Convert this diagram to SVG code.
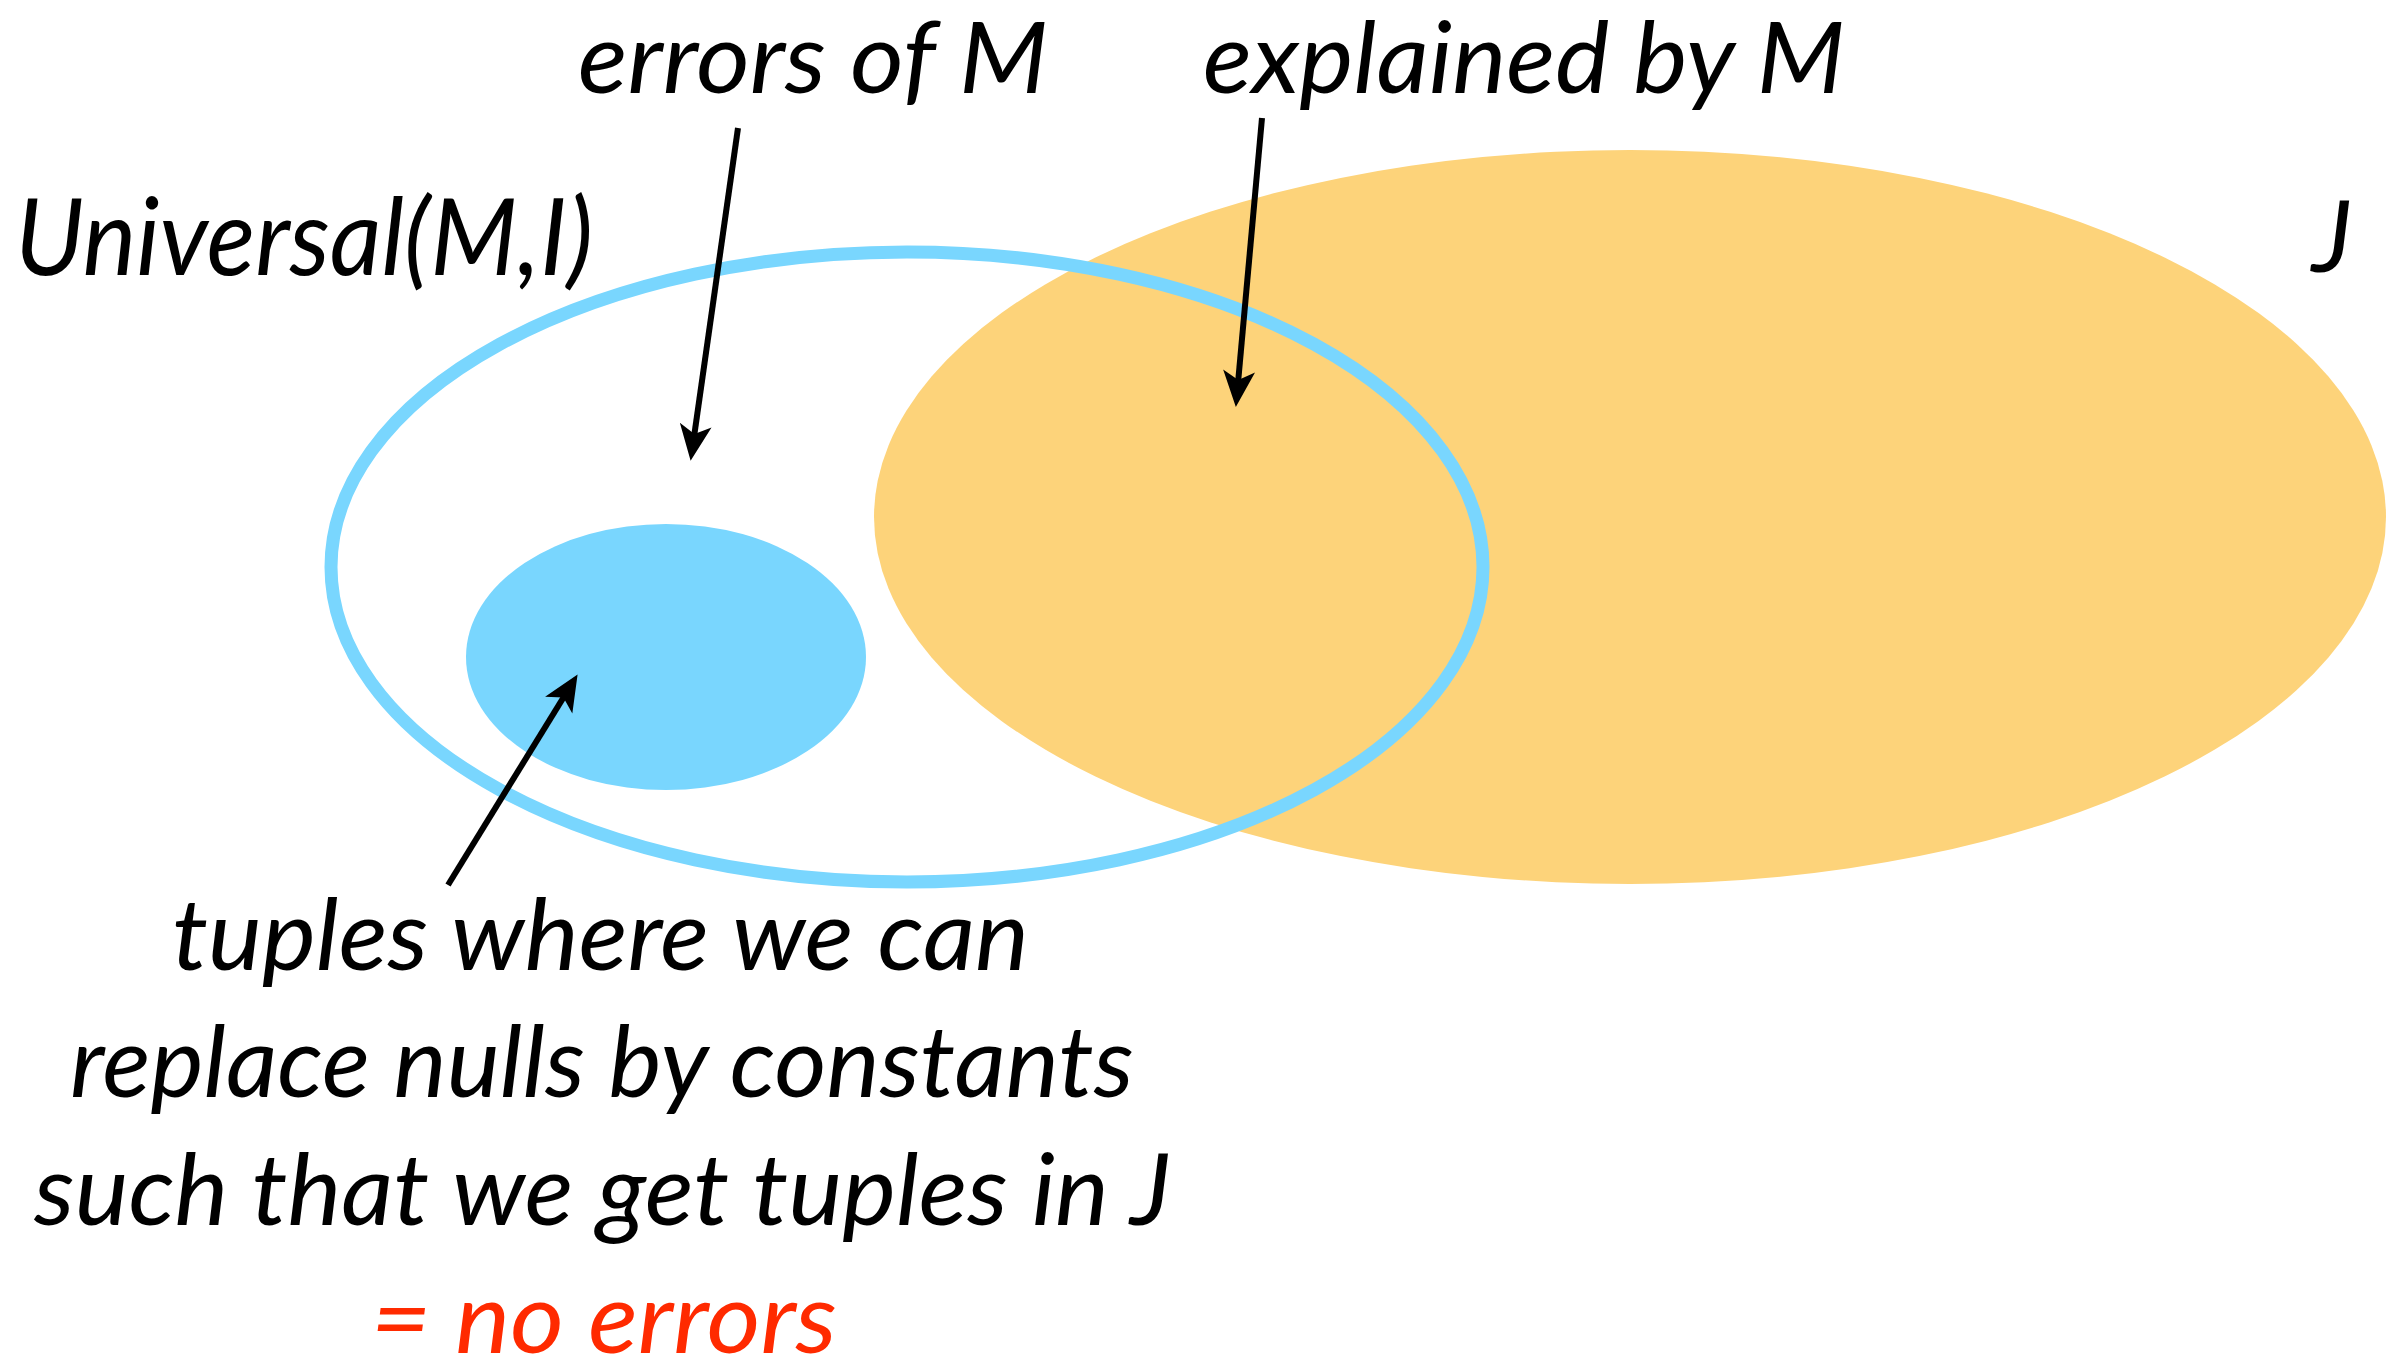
<svg xmlns="http://www.w3.org/2000/svg" width="2391" height="1354" viewBox="0 0 2391 1354">
<style>
.t{font-family:Lato,"Open Sans","Liberation Sans",sans-serif;font-style:italic;font-size:100px;fill:#000}
.r{fill:#FF2A00}
.c{stroke:#000;stroke-width:6;fill:none}
</style>
<defs>
<marker id="ah" markerUnits="userSpaceOnUse" markerWidth="60" markerHeight="60" viewBox="-20 -30 60 60" refX="0" refY="0" orient="auto" overflow="visible">
<path d="M24,0 L-12,-16 L-3,0 L-12,16 Z" fill="#000"/>
</marker>
</defs>
<rect width="2391" height="1354" fill="#fff"/>
<g id="J">
<ellipse cx="1630" cy="517" rx="756" ry="367" fill="#FDD37A"/>
<text class="t" x="2312" y="272">J</text>
</g>
<g id="universal">
<ellipse cx="907" cy="567" rx="576" ry="315" fill="none" stroke="#79D6FE" stroke-width="13"/>
<text class="t" x="15" y="275" textLength="578" lengthAdjust="spacingAndGlyphs" style="font-size:106px">Universal(M,I)</text>
</g>
<g id="noerrors">
<ellipse cx="666" cy="657" rx="200" ry="133" fill="#79D6FE"/>
</g>
<g id="connectors">
<line class="c" x1="738" y1="128" x2="694" y2="437" marker-end="url(#ah)"/>
<line class="c" x1="1262" y1="118" x2="1238" y2="383" marker-end="url(#ah)"/>
<line class="c" x1="448" y1="885" x2="565" y2="695" marker-end="url(#ah)"/>
</g>
<g id="labels">
<text class="t" x="578" y="93" textLength="470" lengthAdjust="spacingAndGlyphs">errors of M</text>
<text class="t" x="1203" y="93" textLength="642" lengthAdjust="spacingAndGlyphs">explained by M</text>
<text class="t" x="172" y="970" textLength="857" lengthAdjust="spacingAndGlyphs">tuples where we can</text>
<text class="t" x="70" y="1097" textLength="1064" lengthAdjust="spacingAndGlyphs">replace nulls by constants</text>
<text class="t" x="34" y="1225" textLength="1137" lengthAdjust="spacingAndGlyphs">such that we get tuples in J</text>
<text class="t r" x="371" y="1353" textLength="466" lengthAdjust="spacingAndGlyphs">= no errors</text>
</g>
</svg>
